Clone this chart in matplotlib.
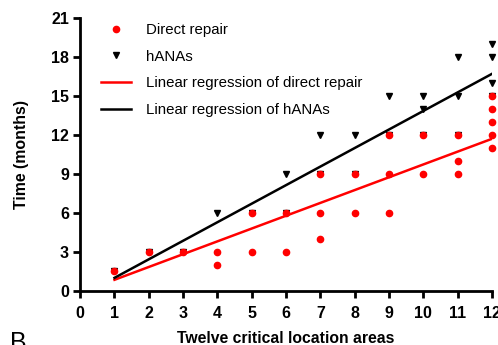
import numpy as np
import matplotlib
matplotlib.use("Agg")
import matplotlib.pyplot as plt

plt.rcParams['font.family'] = ['Liberation Sans', 'DejaVu Sans']

direct_x = [1, 2, 3, 4, 4, 5, 5, 6, 6, 7, 7, 7, 8, 8, 9, 9, 9, 10, 10, 11, 11, 11, 12, 12, 12, 12, 12]
direct_y = [1.5, 3, 3, 3, 2, 6, 3, 6, 3, 9, 6, 4, 9, 6, 12, 9, 6, 12, 9, 12, 10, 9, 15, 14, 13, 12, 11]

hanas_x = [1, 2, 3, 4, 5, 6, 6, 7, 7, 8, 8, 9, 9, 10, 10, 10, 11, 11, 11, 12, 12, 12, 12]
hanas_y = [1.5, 3, 3, 6, 6, 9, 6, 12, 9, 12, 9, 15, 12, 15, 14, 12, 18, 15, 12, 19, 18, 16, 15]

# regression line endpoints
reg_x = [1, 12]
direct_reg_y = [0.85, 11.7]
hanas_reg_y = [1.0, 16.7]

x_ticks = list(range(0, 13))
y_ticks = [0, 3, 6, 9, 12, 15, 18, 21]

fig = plt.figure(figsize=(4.98, 3.45), dpi=100)
ax = fig.add_axes([0.161, 0.157, 0.827, 0.791])

ax.plot(hanas_x, hanas_y, linestyle='none', marker='v', color='black', ms=4, label='hANAs',
        zorder=3, clip_on=False)
ax.plot(direct_x, direct_y, linestyle='none', marker='o', color='red', ms=4.5, label='Direct repair',
        zorder=4, clip_on=False)

ax.plot(reg_x, direct_reg_y, color='red', lw=1.8, label='Linear regression of direct repair', zorder=5)
ax.plot(reg_x, hanas_reg_y, color='black', lw=1.8, label='Linear regression of hANAs', zorder=5)

handles, labels = ax.get_legend_handles_labels()
order = [1, 0, 2, 3]
ax.legend([handles[i] for i in order], [labels[i] for i in order], loc='upper left',
          bbox_to_anchor=(0.025, 1.02), frameon=False, fontsize=10.8, handlelength=2.0,
          handletextpad=1.0, labelspacing=0.85, borderaxespad=0.3)

ax.set_xlim(0, 12)
ax.set_ylim(0, 21)
ax.set_xticks(x_ticks)
ax.set_yticks(y_ticks)
for s in ['top', 'right']:
    ax.spines[s].set_visible(False)
for s in ['left', 'bottom']:
    ax.spines[s].set_linewidth(2)
ax.tick_params(width=2, length=5, labelsize=11.5)
ax.tick_params(axis='x', pad=6)
ax.tick_params(axis='y', pad=3)
for lab in ax.get_xticklabels() + ax.get_yticklabels():
    lab.set_fontweight('bold')
ax.set_xlabel('Twelve critical location areas', fontsize=11.3, fontweight='bold', labelpad=7)
ax.set_ylabel('Time (months)', fontsize=11.4, fontweight='bold', labelpad=16)

fig.text(0.02, -0.015, 'B', fontsize=18)

fig.savefig('out.png', dpi=100)
